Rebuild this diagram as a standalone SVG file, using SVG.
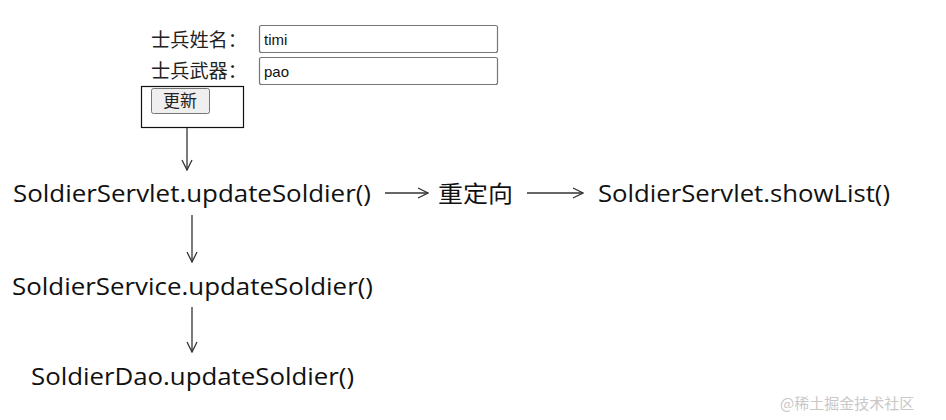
<svg xmlns="http://www.w3.org/2000/svg" width="946" height="420" viewBox="0 0 946 420">
<style>
.lbl{font-family:"Noto Sans CJK SC","Noto Sans",sans-serif;font-size:19px;fill:#222}
.inp{fill:#fff;stroke:#767676;stroke-width:1.2}
.val{font-family:"Liberation Sans",Arial,sans-serif;font-size:15px;fill:#111}
.big{font-family:"Open Sans","Noto Sans","Noto Sans CJK SC",sans-serif;font-size:23px;fill:#111}
.conn{stroke:#333;stroke-width:1.3;fill:none}
.wm{font-family:"Noto Sans CJK SC",sans-serif;font-size:15px;fill:#c8c8c8}
</style>
<defs>
<marker id="ah" viewBox="0 0 12 12" refX="11" refY="6" markerWidth="12" markerHeight="12" markerUnits="userSpaceOnUse" orient="auto">
<path d="M1,1 L11,6 L1,11" fill="none" stroke="#333" stroke-width="1.3"/>
</marker>
</defs>
<rect width="946" height="420" fill="#fff"/>
<g id="form">
<text class="lbl" x="151" y="47" textLength="96" lengthAdjust="spacingAndGlyphs">士兵姓名：</text>
<rect class="inp" x="259.5" y="25.5" width="238" height="27" rx="2"/>
<text class="val" x="264" y="45">timi</text>
<text class="lbl" x="151" y="78" textLength="96" lengthAdjust="spacingAndGlyphs">士兵武器：</text>
<rect class="inp" x="259.5" y="57.5" width="238" height="27" rx="2"/>
<text class="val" x="264" y="77">pao</text>
<rect x="141.5" y="86.5" width="102" height="41" fill="none" stroke="#111" stroke-width="1.2"/>
<rect x="151.5" y="88.5" width="58" height="25" rx="2" fill="#efefef" stroke="#767676" stroke-width="1"/>
<text class="lbl" x="163" y="107" style="font-size:17px">更新</text>
</g>
<g id="servlet"><text class="big" x="13" y="202" textLength="358" lengthAdjust="spacingAndGlyphs">SoldierServlet.updateSoldier()</text></g>
<g id="redirect"><text class="big" x="438" y="202" textLength="75" lengthAdjust="spacingAndGlyphs">重定向</text></g>
<g id="showlist"><text class="big" x="598" y="202" textLength="292" lengthAdjust="spacingAndGlyphs">SoldierServlet.showList()</text></g>
<g id="service"><text class="big" x="12" y="295" textLength="361" lengthAdjust="spacingAndGlyphs">SoldierService.updateSoldier()</text></g>
<g id="dao"><text class="big" x="31" y="385" textLength="323" lengthAdjust="spacingAndGlyphs">SoldierDao.updateSoldier()</text></g>
<g id="connectors">
<line class="conn" x1="187" y1="128" x2="187" y2="170" marker-end="url(#ah)"/>
<line class="conn" x1="385" y1="193" x2="428" y2="193" marker-end="url(#ah)"/>
<line class="conn" x1="527" y1="193" x2="583" y2="193" marker-end="url(#ah)"/>
<line class="conn" x1="192" y1="215" x2="192" y2="262" marker-end="url(#ah)"/>
<line class="conn" x1="192" y1="307" x2="192" y2="352" marker-end="url(#ah)"/>
</g>
<text class="wm" x="780" y="409">@稀土掘金技术社区</text>
</svg>
